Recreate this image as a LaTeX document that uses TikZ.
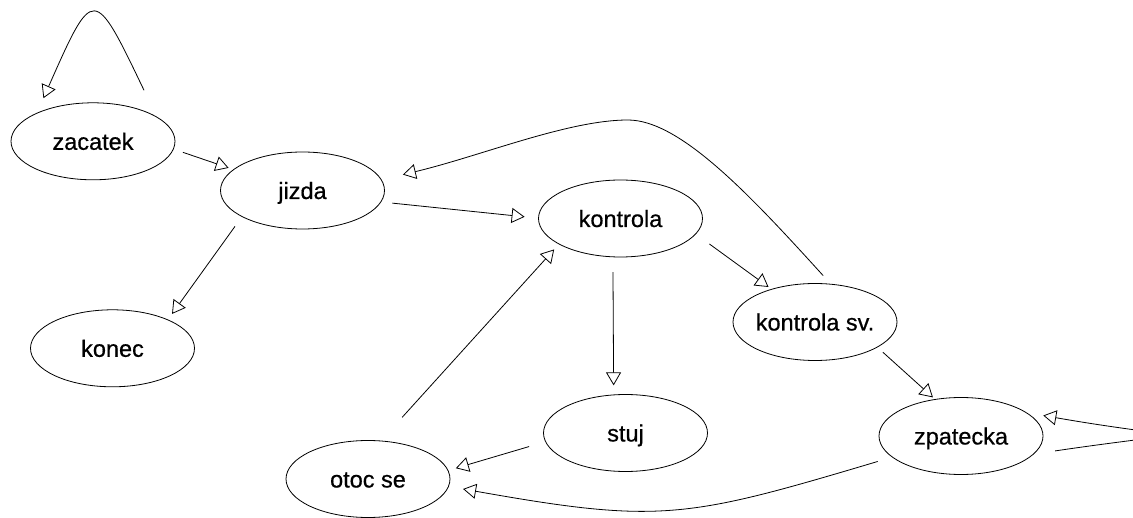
\documentclass[tikz,border=0pt]{standalone}
\usepackage{fontspec}
\setmainfont{Liberation Sans}
\newfontfamily\statefont[FakeBold=0.6]{Liberation Sans}
\usetikzlibrary{arrows.meta,shapes.geometric,calc}
\tikzset{
  state/.style={ellipse, draw=black, line width=0.8pt, minimum width=164pt,
    minimum height=77pt, inner sep=0pt, outer sep=0pt,
    text height=17pt, text depth=0pt, font=\statefont\fontsize{23.5}{28}\selectfont},
  link/.style={draw=black, line width=0.8pt,
    -{Triangle[open, length=13pt, width=15pt]}},
}
% zero-width box so the ellipse size comes from the minimum sizes only
\newcommand\lbl[1]{\makebox[0pt]{#1}}
% point on the ray from a node's centre through its border at a given angle
\newcommand\bp[3]{($(#1.center)!#2!(#1.#3)$)}

\begin{document}
\begin{tikzpicture}[x=1pt, y=-1pt]
\useasboundingbox (0,0) rectangle (1133,518);
\clip (0,0) rectangle (1133,518);

% states
\node[state] (zacatek)  at (93,141.3)    {\lbl{zacatek}};
\node[state] (jizda)    at (302.5,190.5) {\lbl{jizda}};
\node[state] (kontrola) at (620.5,218.5) {\lbl{kontrola}};
\node[state] (konec)    at (112.5,348.3) {\lbl{konec}};
\node[state] (ksv)      at (815,322)     {\lbl{kontrola sv.}};
\node[state] (stuj)     at (625.5,433)   {\lbl{stuj}};
\node[state] (otoc)     at (368,479)     {\lbl{otoc se}};
\node[state] (zpatecka) at (961,436)     {\lbl{zpatecka}};

% transitions
\draw[link] \bp{zacatek}{1.134}{353} -- \bp{jizda}{1.075}{163.2};
\draw[link] \bp{jizda}{1.144}{352.1} -- \bp{kontrola}{1.170}{179.1};
\draw[link] \bp{jizda}{1.244}{208.8} -- \bp{konec}{1.151}{30.5};
\draw[link] \bp{kontrola}{1.271}{344.1} -- \bp{ksv}{1.072}{143.9};
\draw[link] \bp{kontrola}{1.393}{262} -- \bp{stuj}{1.245}{104.9};
\draw[link] \bp{ksv}{1.140}{336.5} -- \bp{zpatecka}{1.060}{126.6};
\draw[link] \bp{otoc}{1.656}{61.6} -- \bp{kontrola}{1.140}{205.7};
\draw[link] \bp{stuj}{1.227}{188.3} -- \bp{otoc}{1.107}{7.9};

% kontrola sv. back to jizda, over the top
\draw[link] \bp{ksv}{1.209}{80.3}
  .. controls (750,195) and (680,120) .. (628,120)
  .. controls (568,120) and (481,156) .. \bp{jizda}{1.292}{9.3};

% zpatecka down and round to otoc se
\draw[link] \bp{zpatecka}{1.212}{197.4}
  .. controls (686,518.6) and (660,524) .. \bp{otoc}{1.188}{354};

% self loops
\draw[link] \bp{zacatek}{1.464}{45}
  .. controls (93.6,-15) and (93.5,-15) .. \bp{zacatek}{1.272}{139.3};
\draw[link] \bp{zpatecka}{1.212}{351.6}
  .. controls (1204.5,428.8) and (1190.7,441.3) .. \bp{zpatecka}{1.136}{14.4};
\end{tikzpicture}
\end{document}
